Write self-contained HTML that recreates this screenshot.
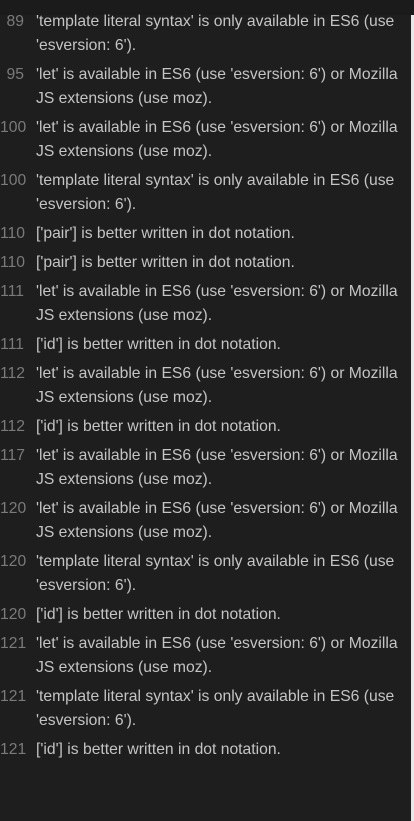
<!DOCTYPE html>
<html><head><meta charset="utf-8"><style>
html,body{margin:0;padding:0;background:#1e1e1e;width:414px;height:821px;overflow:hidden}
body{font-family:"Liberation Sans",Arial,sans-serif;font-size:15.7px;position:relative}
.top{position:absolute;left:0;top:0;width:414px;height:15px;background:#1b1b1b}
.strip{position:absolute;left:411px;top:15px;width:3px;height:806px;background:#e8e8e8}
.wrap{position:absolute;top:7.5px;left:0;width:410px}
.r{display:flex;padding:2.5px 0;line-height:24px}
.n{width:24px;text-align:right;color:#7a7a7a;flex:none}
.t{margin-left:12px;color:#c4c4c4;white-space:nowrap}
</style></head><body>
<div class="top"></div><div class="strip"></div>
<div class="wrap">
<div class="r"><div class="n">89</div><div class="t">'template literal syntax' is only available in ES6 (use<br>'esversion: 6').</div></div>
<div class="r"><div class="n">95</div><div class="t">'let' is available in ES6 (use 'esversion: 6') or Mozilla<br>JS extensions (use moz).</div></div>
<div class="r"><div class="n">100</div><div class="t">'let' is available in ES6 (use 'esversion: 6') or Mozilla<br>JS extensions (use moz).</div></div>
<div class="r"><div class="n">100</div><div class="t">'template literal syntax' is only available in ES6 (use<br>'esversion: 6').</div></div>
<div class="r"><div class="n">110</div><div class="t">['pair'] is better written in dot notation.</div></div>
<div class="r"><div class="n">110</div><div class="t">['pair'] is better written in dot notation.</div></div>
<div class="r"><div class="n">111</div><div class="t">'let' is available in ES6 (use 'esversion: 6') or Mozilla<br>JS extensions (use moz).</div></div>
<div class="r"><div class="n">111</div><div class="t">['id'] is better written in dot notation.</div></div>
<div class="r"><div class="n">112</div><div class="t">'let' is available in ES6 (use 'esversion: 6') or Mozilla<br>JS extensions (use moz).</div></div>
<div class="r"><div class="n">112</div><div class="t">['id'] is better written in dot notation.</div></div>
<div class="r"><div class="n">117</div><div class="t">'let' is available in ES6 (use 'esversion: 6') or Mozilla<br>JS extensions (use moz).</div></div>
<div class="r"><div class="n">120</div><div class="t">'let' is available in ES6 (use 'esversion: 6') or Mozilla<br>JS extensions (use moz).</div></div>
<div class="r"><div class="n">120</div><div class="t">'template literal syntax' is only available in ES6 (use<br>'esversion: 6').</div></div>
<div class="r"><div class="n">120</div><div class="t">['id'] is better written in dot notation.</div></div>
<div class="r"><div class="n">121</div><div class="t">'let' is available in ES6 (use 'esversion: 6') or Mozilla<br>JS extensions (use moz).</div></div>
<div class="r"><div class="n">121</div><div class="t">'template literal syntax' is only available in ES6 (use<br>'esversion: 6').</div></div>
<div class="r"><div class="n">121</div><div class="t">['id'] is better written in dot notation.</div></div>
</div>
</body></html>
